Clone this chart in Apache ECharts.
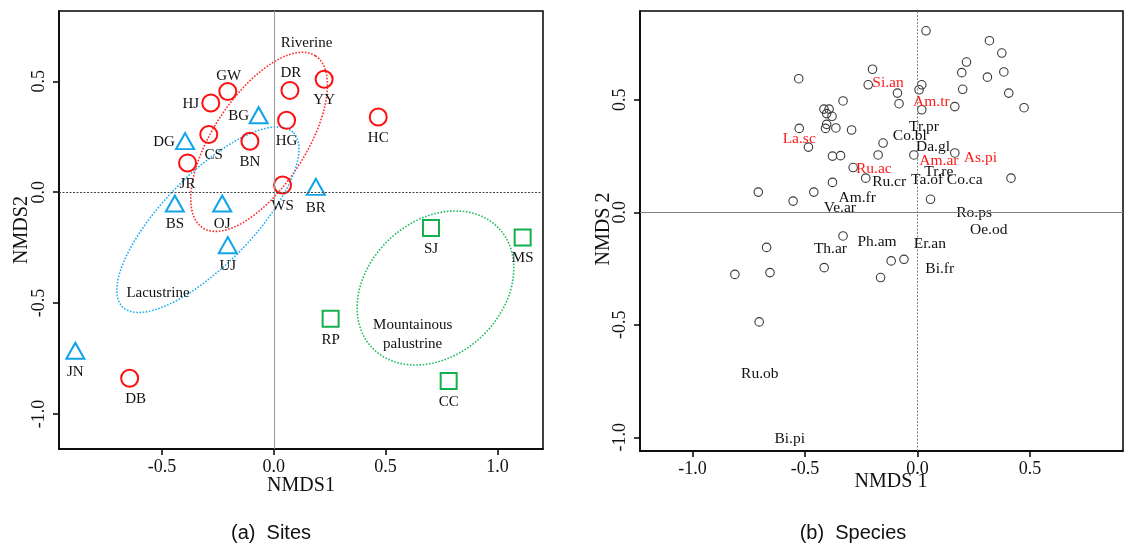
<!DOCTYPE html>
<html>
<head>
<meta charset="utf-8">
<script src="https://cdn.jsdelivr.net/npm/echarts@6/dist/echarts.min.js"></script>
<style>
html,body{margin:0;padding:0;background:#fff;}
#chart{width:1125px;height:548px;}
</style>
</head>
<body>
<div id="chart"></div>
<script>
// ---------------- DATA ----------------
// (a) Sites
const riverineSites = ['HJ','GW','CS','JR','BN','DR','YY','HG','HC','WS','DB'];
const riverineX = [-0.282,-0.206,-0.291,-0.386,-0.107,0.072,0.225,0.057,0.467,0.039,-0.645];
const riverineY = [0.402,0.454,0.260,0.132,0.230,0.459,0.509,0.324,0.339,0.032,-0.839];

const lacustrineSites = ['BG','DG','BS','OJ','UJ','BR','JN'];
const lacustrineX = [-0.068,-0.397,-0.443,-0.231,-0.206,0.188,-0.888];
const lacustrineY = [0.347,0.230,-0.051,-0.051,-0.239,0.024,-0.715];

const palustrineSites = ['SJ','MS','RP','CC'];
const palustrineX = [0.703,1.113,0.254,0.782];
const palustrineY = [-0.161,-0.204,-0.571,-0.851];

// group ellipses: centre x, centre y, semi-major, semi-minor, angle (deg)
const ellipseGroups = ['Riverine','Lacustrine','Mountainous palustrine'];
const ellipseCX = [-0.066,-0.295,0.723];
const ellipseCY = [0.227,-0.124,-0.432];
const ellipseA = [0.4625,0.548,0.391];
const ellipseB = [0.2066,0.202,0.301];
const ellipseAngle = [57,46,44];

const groupLabels = ['Riverine','Lacustrine','Mountainous\npalustrine'];
const groupLabelX = [0.146,-0.518,0.621];
const groupLabelY = [0.673,-0.454,-0.643];

// (b) Species scores (unlabelled points)
const speciesX = [-0.528,-0.331,-0.416,-0.393,-0.404,-0.380,-0.404,-0.409,-0.363,-0.526,-0.293,-0.485,-0.378,-0.342,-0.286,-0.378,-0.708,-0.461,-0.553,-0.331,-0.671,-0.812,-0.656,-0.415,-0.704,
  0.038,0.320,0.375,0.218,-0.200,0.197,0.384,0.311,-0.219,0.019,0.007,-0.089,0.201,0.406,-0.082,0.166,0.474,0.019,-0.153,-0.175,-0.016,0.166,-0.230,0.416,0.058,-0.117,-0.060,-0.164];
const speciesY = [0.594,0.495,0.459,0.459,0.439,0.427,0.391,0.373,0.375,0.373,0.366,0.290,0.250,0.252,0.199,0.133,0.090,0.090,0.050,-0.105,-0.156,-0.276,-0.268,-0.246,-0.487,
  0.807,0.763,0.708,0.668,0.636,0.621,0.624,0.601,0.567,0.567,0.545,0.530,0.547,0.530,0.483,0.470,0.465,0.456,0.308,0.255,0.255,0.264,0.152,0.152,0.058,-0.216,-0.209,-0.290];

// (b) Species labels
const speciesNames = ['Si.an','Am.tr','La.sc','Ru.ac','Am.ar','As.pi','Tr.pr','Co.bl','Da.gl','Tr.re','Ru.cr','Ta.of','Co.ca','Am.fr','Ve.ar','Ro.ps','Oe.od','Th.ar','Ph.am','Er.an','Bi.fr','Ru.ob','Bi.pi'];
const speciesNameX = [-0.131,0.062,-0.526,-0.194,0.095,0.280,0.029,-0.034,0.069,0.095,-0.126,0.043,0.210,-0.268,-0.345,0.252,0.317,-0.387,-0.180,0.055,0.099,-0.701,-0.568];
const speciesNameY = [0.575,0.493,0.327,0.192,0.228,0.243,0.379,0.338,0.290,0.179,0.135,0.142,0.142,0.062,0.021,-0.003,-0.077,-0.161,-0.130,-0.139,-0.250,-0.720,-1.006];
const highlightedSpecies = ['Si.an','Am.tr','La.sc','Ru.ac','Am.ar','As.pi'];

const sitesXTicks = [-0.5,0.0,0.5,1.0];
const speciesXTicks = [-1.0,-0.5,0.0,0.5];
const yTicks = [-1.0,-0.5,0.0,0.5];

// ---------------- STYLE ----------------
const SERIF = '"Liberation Serif","DejaVu Serif",serif';
const SANS = '"Liberation Sans",Arial,sans-serif';
const RED = '#FF1010', BLUE = '#12A4E8', GREEN = '#12B04E';
const ellipseColors = ['#FF2A2A','#22AEF0','#22BC60'];

// label placement for site names (pixel offsets from marker)
const labelOffset = {
  HJ:[-20,1], GW:[1,-15], DR:[1,-17], BG:[-20,1], DG:[-21,1],
  CS:[5,21], DB:[6,21]
};
function siteData(names, xs, ys){
  return names.map((n,i)=>{
    const off = labelOffset[n] || [0,21];
    return {name:n, value:[xs[i], ys[i]], label:{offset:off}};
  });
}

const xRangeA = [-0.961, 1.204], yRangeA = [-1.158, 0.817];
const xRangeB = [-1.234, 0.914], yRangeB = [-1.061, 0.895];

function makeX(idx, range, ticks){
  return {
    gridIndex: idx, type:'value', min: range[0], max: range[1],
    axisLine:{show:true, onZero:false, lineStyle:{color:'#000', width:1.5}},
    axisTick:{show:true, inside:false, length:6, lineStyle:{color:'#000', width:1.5}, customValues: ticks},
    axisLabel:{show:true, margin:9, color:'#111', fontFamily:SERIF, fontSize:18, customValues: ticks,
      formatter: v => v.toFixed(1)},
    splitLine:{show:false}
  };
}
function makeY(idx, range, ticks){
  return {
    gridIndex: idx, type:'value', min: range[0], max: range[1],
    axisLine:{show:true, onZero:false, lineStyle:{color:'#000', width:1.5}},
    axisTick:{show:true, inside:false, length:6, lineStyle:{color:'#000', width:1.5}, customValues: ticks},
    axisLabel:{show:true, margin:11, rotate:90, color:'#111', fontFamily:SERIF, fontSize:18, customValues: ticks,
      formatter: v => v.toFixed(1)},
    splitLine:{show:false}
  };
}

const siteLabel = {show:true, position:'inside', color:'#111', fontFamily:SERIF, fontSize:15,
  formatter: p => p.name};

const ellipseData = ellipseGroups.map((g,i)=>[ellipseCX[i], ellipseCY[i], ellipseA[i], ellipseB[i], ellipseAngle[i], i]);

function renderEllipse(params, api){
  const cx = api.value(0), cy = api.value(1), a = api.value(2), b = api.value(3);
  const th = api.value(4) * Math.PI / 180;
  const gi = api.value(5);
  const pts = [];
  const N = 180;
  for (let k = 0; k < N; k++){
    const t = 2*Math.PI*k/N;
    const x = cx + a*Math.cos(th)*Math.cos(t) - b*Math.sin(th)*Math.sin(t);
    const y = cy + a*Math.sin(th)*Math.cos(t) + b*Math.cos(th)*Math.sin(t);
    pts.push(api.coord([x, y]));
  }
  return {
    type:'polygon', shape:{points: pts},
    style:{fill:'none', stroke: ellipseColors[gi], lineWidth:1.6, lineDash:[1.6,1.6]}
  };
}

const chart = echarts.init(document.getElementById('chart'), null, {renderer:'canvas'});
const option = {
  backgroundColor:'#fff',
  animation:false,
  grid:[
    {left:59, top:11, width:484, height:438, show:true, borderColor:'#000', borderWidth:1.5, backgroundColor:'transparent'},
    {left:640, top:11, width:483, height:440, show:true, borderColor:'#000', borderWidth:1.5, backgroundColor:'transparent'}
  ],
  xAxis:[ makeX(0, xRangeA, sitesXTicks), makeX(1, xRangeB, speciesXTicks) ],
  yAxis:[ makeY(0, yRangeA, yTicks), makeY(1, yRangeB, yTicks) ],
  graphic:[
    {type:'text', x:301, y:486, style:{text:'NMDS1', fontFamily:SERIF, fontSize:20, fill:'#111', align:'center', verticalAlign:'middle'}},
    {type:'text', x:22, y:230, rotation:Math.PI/2, style:{text:'NMDS2', fontFamily:SERIF, fontSize:20, fill:'#111', align:'center', verticalAlign:'middle'}},
    {type:'text', x:891, y:482, style:{text:'NMDS 1', fontFamily:SERIF, fontSize:20, fill:'#111', align:'center', verticalAlign:'middle'}},
    {type:'text', x:604, y:229, rotation:Math.PI/2, style:{text:'NMDS 2', fontFamily:SERIF, fontSize:20, fill:'#111', align:'center', verticalAlign:'middle'}},
    {type:'text', x:271, y:533, style:{text:'(a)  Sites', fontFamily:SANS, fontSize:20, fill:'#111', align:'center', verticalAlign:'middle'}},
    {type:'text', x:853, y:533, style:{text:'(b)  Species', fontFamily:SANS, fontSize:20, fill:'#111', align:'center', verticalAlign:'middle'}}
  ],
  series:[
    // reference lines (a)
    {type:'scatter', xAxisIndex:0, yAxisIndex:0, data:[], silent:true,
      markLine:{silent:true, symbol:['none','none'], label:{show:false}, animation:false,
        data:[
          {xAxis:0, lineStyle:{color:'#9a9a9a', width:1, type:'solid', opacity:1}},
          {yAxis:0, lineStyle:{color:'#444', width:1, type:[2,1.5], opacity:1}}
        ]}},
    // ellipses (a)
    {type:'custom', xAxisIndex:0, yAxisIndex:0, data: ellipseData, renderItem: renderEllipse, silent:true, z:1},
    // sites
    {type:'scatter', xAxisIndex:0, yAxisIndex:0, symbol:'circle', symbolSize:17,
      itemStyle:{color:'rgba(0,0,0,0)', borderColor:RED, borderWidth:2, opacity:1},
      label: siteLabel, data: siteData(riverineSites, riverineX, riverineY), z:3},
    {type:'scatter', xAxisIndex:0, yAxisIndex:0, symbol:'triangle', symbolSize:[18,16],
      itemStyle:{color:'rgba(0,0,0,0)', borderColor:BLUE, borderWidth:2, opacity:1},
      label: siteLabel, data: siteData(lacustrineSites, lacustrineX, lacustrineY), z:3},
    {type:'scatter', xAxisIndex:0, yAxisIndex:0, symbol:'rect', symbolSize:16,
      itemStyle:{color:'rgba(0,0,0,0)', borderColor:GREEN, borderWidth:2, opacity:1},
      label: siteLabel, data: siteData(palustrineSites, palustrineX, palustrineY), z:3},
    // group names
    {type:'scatter', xAxisIndex:0, yAxisIndex:0, symbolSize:0, silent:true, itemStyle:{opacity:1},
      label:{show:true, position:'inside', color:'#111', fontFamily:SERIF, fontSize:15, lineHeight:19, formatter:p=>p.name},
      data: groupLabels.map((g,i)=>({name:g, value:[groupLabelX[i], groupLabelY[i]]})), z:4},

    // reference lines (b)
    {type:'scatter', xAxisIndex:1, yAxisIndex:1, data:[], silent:true,
      markLine:{silent:true, symbol:['none','none'], label:{show:false}, animation:false,
        data:[
          {xAxis:0, lineStyle:{color:'#808080', width:1, type:[2,1.5], opacity:1}},
          {yAxis:0, lineStyle:{color:'#808080', width:1, type:'solid', opacity:1}}
        ]}},
    // species points
    {type:'scatter', xAxisIndex:1, yAxisIndex:1, symbol:'circle', symbolSize:8.5,
      itemStyle:{color:'rgba(0,0,0,0)', borderColor:'#3a3a3a', borderWidth:1.1, opacity:1},
      data: speciesX.map((x,i)=>[x, speciesY[i]]), z:3},
    // species names
    {type:'scatter', xAxisIndex:1, yAxisIndex:1, symbolSize:0, silent:true, itemStyle:{opacity:1},
      label:{show:true, position:'inside', fontFamily:SERIF, fontSize:15.5, formatter:p=>p.name},
      data: speciesNames.map((n,i)=>({name:n, value:[speciesNameX[i], speciesNameY[i]],
        label:{color: highlightedSpecies.includes(n) ? '#FF1A1A' : '#111'}})), z:4}
  ]
};
chart.setOption(option);
</script>
</body>
</html>
